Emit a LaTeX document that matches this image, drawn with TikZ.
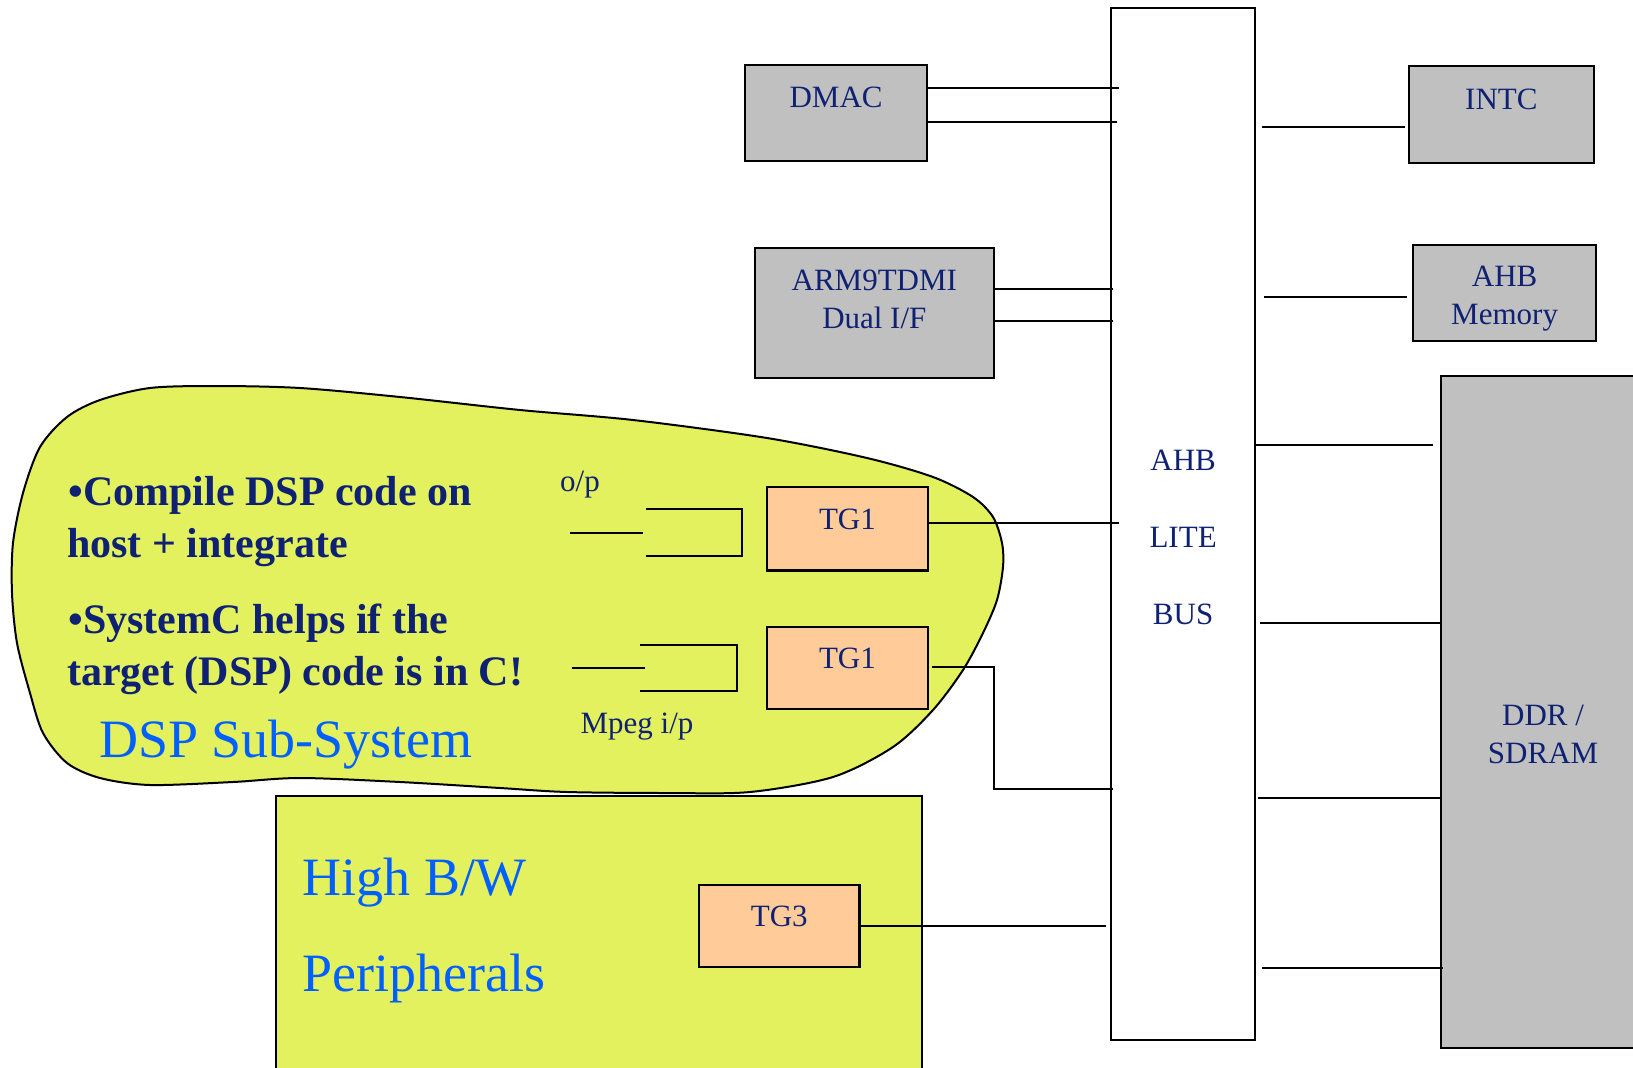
\documentclass[tikz,border=0pt]{standalone}
\usepackage{fontspec}
\setmainfont{Liberation Serif}
\usetikzlibrary{calc}

\definecolor{navy}{RGB}{15,33,115}
\definecolor{titleblue}{RGB}{0,96,255}
\definecolor{lime}{RGB}{227,241,95}
\definecolor{peach}{RGB}{255,204,153}
\definecolor{boxgray}{RGB}{192,192,192}

\newcommand\lblfont{\fontsize{31}{38}\selectfont}
\newcommand\busfont{\fontsize{31}{77.4}\selectfont}
\newcommand\notefont{\fontsize{42}{52}\selectfont\bfseries}
\newcommand\titlefont{\fontsize{54}{64}\selectfont}

\tikzset{
  gbox/.style={draw, line width=2.2pt, fill=boxgray, inner sep=0pt,
    anchor=north west, font=\lblfont, text=navy, align=center},
  tgbox/.style={gbox, fill=peach},
  wire/.style={line width=2pt},
  lbl/.style={inner sep=0pt, font=\lblfont, text=navy},
  note/.style={inner sep=0pt, anchor=base west, font=\notefont, text=navy},
  title/.style={inner sep=0pt, anchor=base west, font=\titlefont, text=titleblue},
}

\begin{document}
\begin{tikzpicture}[x=1pt, y=-1pt]
\useasboundingbox (0,0) rectangle (1633,1068);
\clip (0,0) rectangle (1633,1068);
\fill[white] (0,0) rectangle (1633,1068);

% DSP sub-system outline
\draw[line width=2pt, fill=lime] plot[smooth cycle, tension=0.5] coordinates {
  (150,388) (216,386) (300,388) (400,397) (520,410) (633,420) (767,438)
  (867,458) (933,477) (973,497) (993,517) (1002,543) (1003,567) (997,600)
  (983,633) (963,670) (933,710) (893,747) (833,777) (750,792) (667,793)
  (567,792) (500,788) (400,782) (300,778) (233,782) (150,785) (100,778)
  (67,763) (43,733) (30,693) (17,643) (12,593) (13,543) (23,493) (40,447)
  (67,417) (100,400)};

% high bandwidth peripherals area
\draw[line width=2.2pt, fill=lime] (276,796) rectangle (922,1080);

% AHB lite bus (text height = baseline of the last line)
\node[gbox, fill=white, font=\busfont, minimum width=144pt,
      text height=616.8pt, text depth=415.2pt] (bus) at (1110,7) {AHB\\LITE\\BUS};

% masters and slaves
\node[gbox, minimum width=182pt, text height=42.5pt, text depth=53.5pt]
  (dmac) at (744,63.5) {DMAC};
\node[gbox, minimum width=238.5pt, text height=80pt, text depth=50pt]
  (arm) at (754,247) {ARM9TDMI\\Dual I/F};
\node[gbox, minimum width=184.5pt, text height=43.3pt, text depth=53.2pt]
  (intc) at (1408,65) {INTC};
\node[gbox, minimum width=183pt, text height=80pt, text depth=16.5pt]
  (ahbmem) at (1412,243.5) {AHB\\Memory};
\node[gbox, minimum width=204pt, text height=387.2pt, text depth=284.8pt]
  (ddr) at (1440,375) {DDR /\\SDRAM};

% traffic generators
\node[tgbox, minimum width=160.7pt, text height=42.3pt, text depth=41.3pt]
  (tga) at (766,485.7) {TG1};
\node[tgbox, minimum width=160.7pt, text height=41.6pt, text depth=40.2pt]
  (tgb) at (766,625.7) {TG1};
\node[tgbox, minimum width=160.4pt, text height=42pt, text depth=40pt]
  (tgc) at (698,883.7) {TG3};

% bus connections, left side
\draw[wire] (dmac.east |- 0,87.5) -- ($(bus.west |- 0,87.5)+(8.6,0)$);
\draw[wire] ($(dmac.east |- 0,121.9)+(-2,0)$) -- ($(bus.west |- 0,121.9)+(7,0)$);
\draw[wire] (arm.east |- 0,289.3) -- ($(bus.west |- 0,289.3)+(3,0)$);
\draw[wire] (arm.east |- 0,321) -- ($(bus.west |- 0,321)+(3,0)$);
\draw[wire] (tga.east |- 0,523.3) -- ($(bus.west |- 0,523.3)+(9,0)$);
\coordinate (bend) at (994,789.4);
\draw[wire] ($(tgb.east |- 0,667.3)+(3.5,0)$) -| (bend)
  -- ($(bus.west |- bend)+(3,0)$);
\draw[wire] (tgc.east |- 0,925.5) -- ($(bus.west |- 0,925.5)+(-4,0)$);

% bus connections, right side
\draw[wire] ($(bus.east |- 0,127.3)+(6,0)$) -- ($(intc.west |- 0,127.3)+(-3,0)$);
\draw[wire] ($(bus.east |- 0,297.3)+(8,0)$) -- ($(ahbmem.west |- 0,297.3)+(-5,0)$);
\draw[wire] ($(bus.east |- 0,445.2)+(-2,0)$) -- ($(ddr.west |- 0,445.2)+(-7,0)$);
\draw[wire] ($(bus.east |- 0,623.3)+(4,0)$) -- (ddr.west |- 0,623.3);
\draw[wire] ($(bus.east |- 0,798)+(2,0)$) -- (ddr.west |- 0,798);
\draw[wire] ($(bus.east |- 0,968)+(6,0)$) -- ($(ddr.west |- 0,968)+(3,0)$);

% DSP input / output ports
\draw[wire] (570,533.3) -- (642.7,533.3);
\draw[wire] (646,509.3) -- (742,509.3) -- (742,555.7) -- (646,555.7);
\draw[wire] (571.7,667.7) -- (645,667.7);
\draw[wire] (640,645.3) -- (736.7,645.3) -- (736.7,691.3) -- (640,691.3);
\node[lbl, anchor=base] (op) at (580,491.7) {o/p};
\node[lbl, anchor=base] (mpeg) at (637,733.3) {Mpeg i/p};

% notes and area titles
\node[note] (n1) at (68.3,505.7) {•Compile DSP code on};
\node[note] (n2) at (67,557.3) {host + integrate};
\node[note] (n3) at (68.3,633.3) {•SystemC helps if the};
\node[note] (n4) at (67,685) {target (DSP) code is in C!};
\node[title] (dsp) at (99,757.7) {DSP Sub-System};
\node[title] (hbw) at (302.5,895.7) {High B/W};
\node[title] (per) at (302.5,991.7) {Peripherals};
\end{tikzpicture}
\end{document}
